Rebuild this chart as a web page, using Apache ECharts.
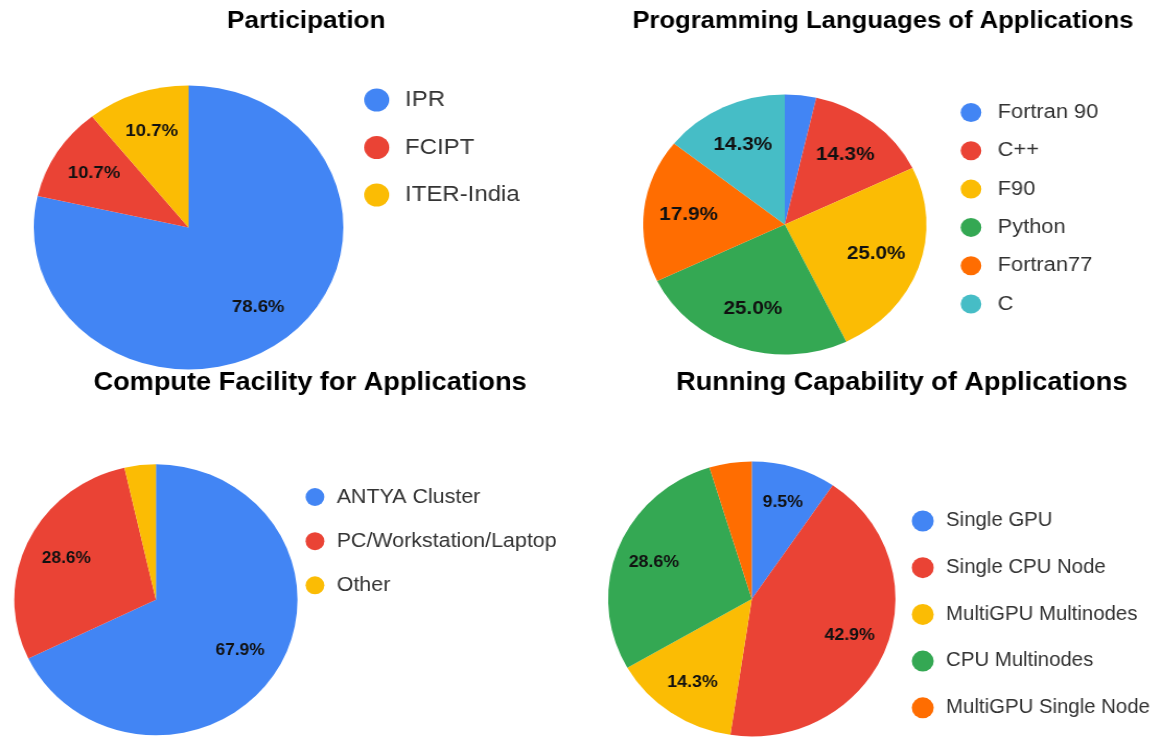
<!DOCTYPE html>
<html>
<head>
<meta charset="utf-8">
<script src="https://cdn.jsdelivr.net/npm/echarts@6/dist/echarts.min.js"></script>
<style>
html,body{margin:0;padding:0;background:#fff;overflow:hidden}
#wrap{width:1163px;height:737px;overflow:hidden;position:relative;background:#fff}
#top{position:absolute;left:0;top:0;width:1067px;height:737px;transform:scaleX(1.09);transform-origin:0 0}
#bottom{position:absolute;left:0;top:0;width:1113px;height:737px;transform:scaleX(1.045);transform-origin:0 0}
</style>
</head>
<body>
<div id="wrap"><div id="bottom"></div><div id="top"></div></div>
<script>
// ---- data ----
const COLORS = ['#4285F4', '#EA4335', '#FBBC04', '#34A853', '#FF6D01', '#46BDC6'];

const participationTitle = 'Participation';
const participationNames = ['IPR', 'FCIPT', 'ITER-India'];
const participationValues = [22, 3, 3];

const languageTitle = 'Programming Languages of Applications';
const languageNames = ['Fortran 90', 'C++', 'F90', 'Python', 'Fortran77', 'C'];
const languageValues = [1, 4, 7, 7, 5, 4];

const computeTitle = 'Compute Facility for Applications';
const computeNames = ['ANTYA Cluster', 'PC/Workstation/Laptop', 'Other'];
const computeValues = [19, 8, 1];

const runningTitle = 'Running Capability of Applications';
const runningNames = ['Single GPU', 'Single CPU Node', 'MultiGPU Multinodes', 'CPU Multinodes', 'MultiGPU Single Node'];
const runningValues = [2, 9, 3, 6, 1];

// ---- layout (styling only) ----
const FONT = '"Liberation Sans", Arial, Helvetica, sans-serif';
const topPanels = [
  { title: participationTitle, names: participationNames, values: participationValues,
    titleX: 281, titleY: 9, titleSize: 24,
    center: [173, 227.5], r: 142, labelFrac: 0.70, labelSize: 17,
    legend: { left: 334.1, top: 88.5, h: 23, gap: 24.5, fs: 22, pad: 9.5 } },
  { title: languageTitle, names: languageNames, values: languageValues,
    titleX: 810, titleY: 9.5, titleSize: 23.5,
    center: [720, 224.5], r: 130, labelFrac: 0.66, labelSize: 19,
    legend: { left: 881.3, top: 102.5, h: 19, gap: 18.3, fs: 20, pad: 10 } }
];
const bottomPanels = [
  { title: computeTitle, names: computeNames, values: computeValues,
    titleX: 296.7, titleY: 369.5, titleSize: 26,
    center: [149.2, 599.8], r: 135.5, labelFrac: 0.68, labelSize: 16.5,
    legend: { left: 292.4, top: 486.5, h: 18, gap: 23.15, fs: 20.5, pad: 6.8 } },
  { title: runningTitle, names: runningNames, values: runningValues,
    titleX: 862.9, titleY: 369.5, titleSize: 26,
    center: [719.4, 598.9], r: 137.5, labelFrac: 0.71, labelSize: 17,
    legend: { left: 872.5, top: 510.5, h: 21, gap: 25.7, fs: 19.5, pad: 6.8 } }
];

function buildOption(panels) {
  const series = [];
  const legends = [];
  const graphics = [];
  panels.forEach((p) => {
    const total = p.values.reduce((a, b) => a + b, 0);
    series.push({
      type: 'pie',
      center: p.center,
      radius: p.r,
      startAngle: 90,
      clockwise: true,
      data: p.names.map((n, i) => ({ name: n, value: p.values[i], itemStyle: { color: COLORS[i] } })),
      label: { show: false },
      labelLine: { show: false },
      itemStyle: { borderWidth: 0 },
      emphasis: { disabled: true },
      animation: false
    });
    // transparent ring that carries the percentage labels at ~labelFrac of the radius
    series.push({
      type: 'pie',
      center: p.center,
      radius: [p.r * (2 * p.labelFrac - 1), p.r],
      startAngle: 90,
      clockwise: true,
      silent: true,
      data: p.names.map((n, i) => ({ name: n, value: p.values[i] })),
      itemStyle: { color: 'rgba(0,0,0,0)', borderWidth: 0 },
      avoidLabelOverlap: false,
      label: {
        show: true,
        position: 'inside',
        formatter: (prm) => {
          const pct = prm.value / total * 100;
          return pct < 5 ? '' : pct.toFixed(1) + '%';
        },
        color: '#111',
        fontSize: p.labelSize,
        fontWeight: 'bold',
        fontFamily: FONT
      },
      labelLine: { show: false },
      emphasis: { disabled: true },
      animation: false
    });
    legends.push({
      orient: 'vertical',
      left: p.legend.left,
      top: p.legend.top,
      padding: 0,
      icon: 'circle',
      itemWidth: p.legend.h,
      itemHeight: p.legend.h,
      itemGap: p.legend.gap,
      selectedMode: false,
      data: p.names,
      textStyle: { fontSize: p.legend.fs, color: '#333', fontFamily: FONT, padding: [0, 0, 0, p.legend.pad] }
    });
    graphics.push({
      type: 'text',
      x: p.titleX,
      y: p.titleY,
      style: {
        text: p.title,
        align: 'center',
        verticalAlign: 'top',
        fontSize: p.titleSize,
        fontWeight: 'bold',
        fontFamily: FONT,
        fill: '#000'
      }
    });
  });
  return { animation: false, backgroundColor: 'transparent', legend: legends, graphic: graphics, series: series };
}

echarts.init(document.getElementById('top'), null, { renderer: 'canvas' }).setOption(buildOption(topPanels));
echarts.init(document.getElementById('bottom'), null, { renderer: 'canvas' }).setOption(buildOption(bottomPanels));
</script>
</body>
</html>
